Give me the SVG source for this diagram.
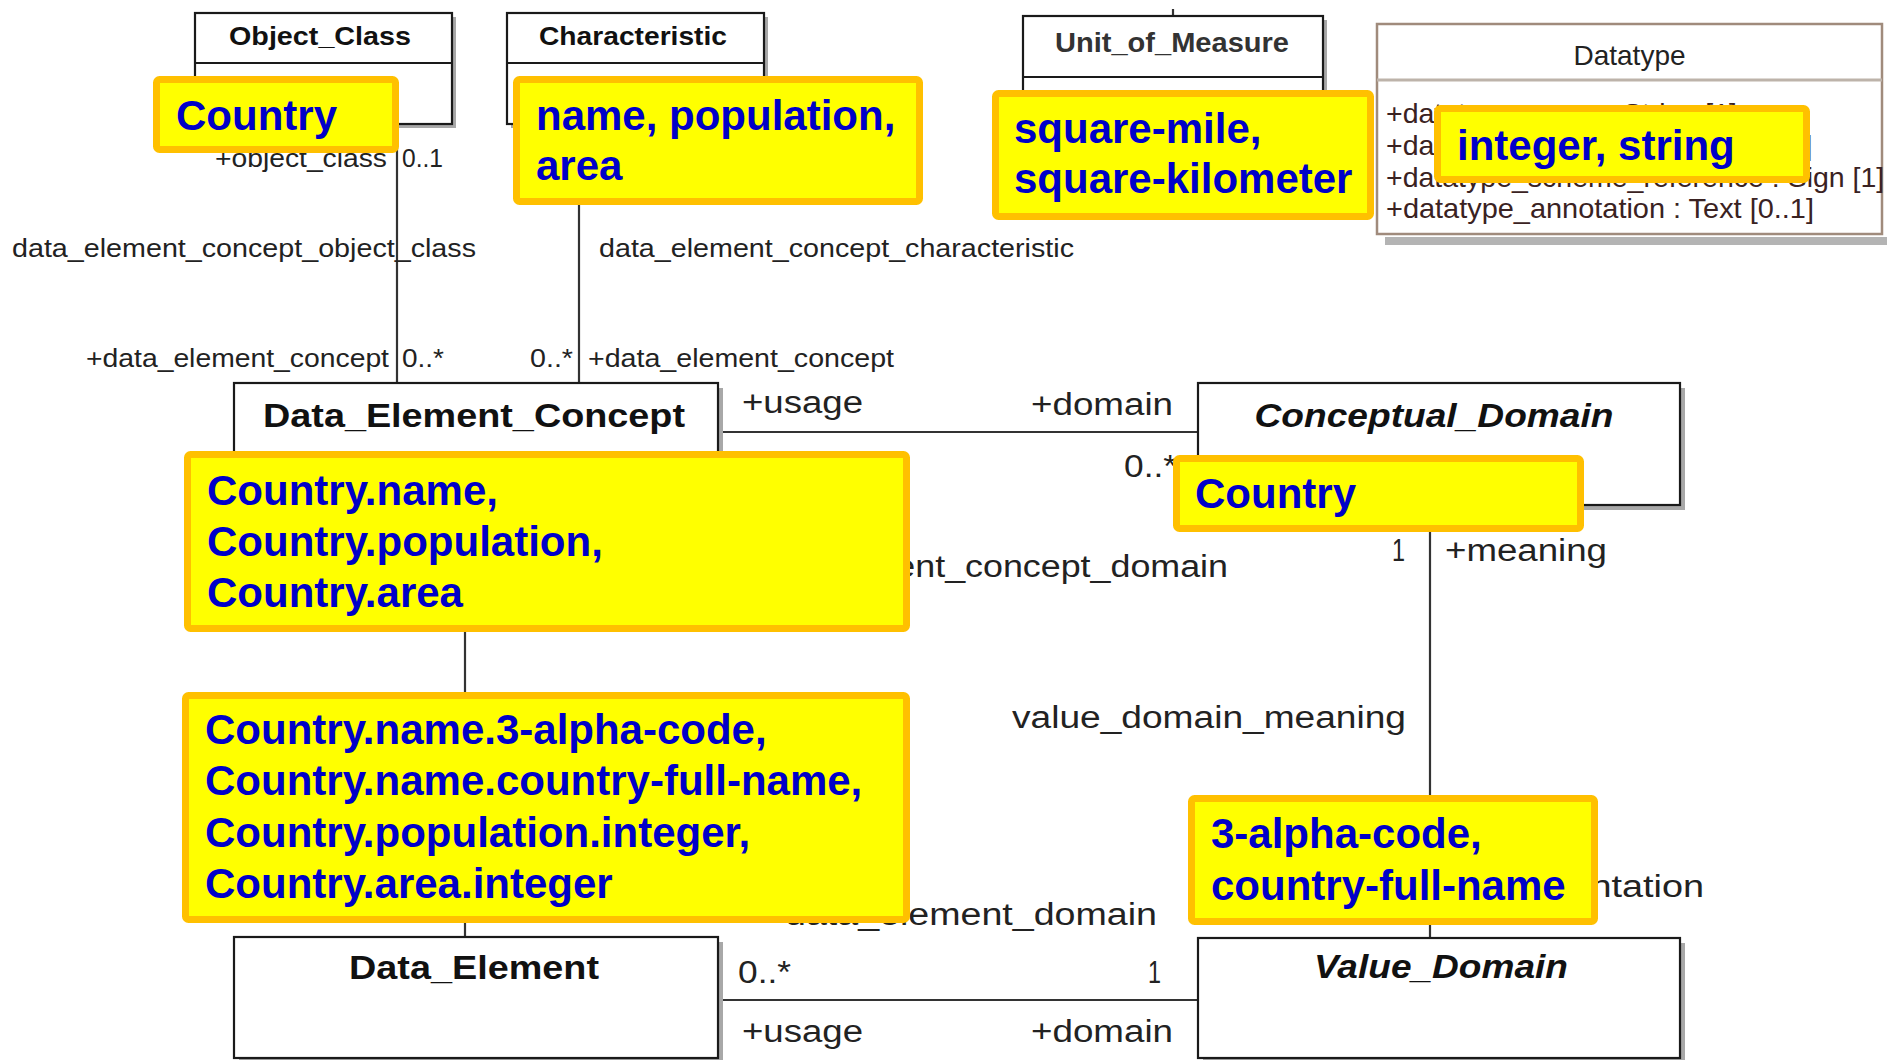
<svg xmlns="http://www.w3.org/2000/svg" width="1887" height="1060" viewBox="0 0 1887 1060">
<style>
.bx{fill:#fff;stroke:#1a1a1a;stroke-width:2.2}
.sh{fill:#a8a8a8}
.dv{stroke:#1a1a1a;stroke-width:2.2}
.ln{stroke:#333;stroke-width:2.2;fill:none}
.t1{font-family:"Liberation Sans",Arial,sans-serif;font-size:25px;fill:#222}
.t2{font-family:"Liberation Sans",Arial,sans-serif;font-size:31px;fill:#222}
.tt{font-family:"Liberation Sans",Arial,sans-serif;font-weight:bold;fill:#111;text-anchor:middle}
.dt{font-family:"Liberation Sans",Arial,sans-serif;font-size:28.5px;fill:#3a2222}
.yb{fill:#ffff00;stroke:#ffc000;stroke-width:7}
.yt{font-family:"Liberation Sans",Arial,sans-serif;font-weight:bold;font-size:42px;fill:#0000c8}
</style>

<g id="connectors">
<line class="ln" x1="397" y1="124" x2="397" y2="383"/>
<line class="ln" x1="579" y1="124" x2="579" y2="383"/>
<line class="ln" x1="1173" y1="9" x2="1173" y2="16"/>
<line class="ln" x1="718" y1="432" x2="1198" y2="432"/>
<line class="ln" x1="465" y1="505" x2="465" y2="937"/>
<line class="ln" x1="1430" y1="505" x2="1430" y2="938"/>
<line class="ln" x1="718" y1="1000" x2="1198" y2="1000"/>
<text class="t1" x="387" y="167" text-anchor="end" textLength="172" lengthAdjust="spacingAndGlyphs">+object_class</text>
<text class="t1" x="402" y="167" textLength="41" lengthAdjust="spacingAndGlyphs">0..1</text>
<text class="t1" x="12" y="257" textLength="464" lengthAdjust="spacingAndGlyphs">data_element_concept_object_class</text>
<text class="t1" x="599" y="257" textLength="475" lengthAdjust="spacingAndGlyphs">data_element_concept_characteristic</text>
<text class="t1" x="86" y="367" textLength="303" lengthAdjust="spacingAndGlyphs">+data_element_concept</text>
<text class="t1" x="402" y="367" textLength="42" lengthAdjust="spacingAndGlyphs">0..*</text>
<text class="t1" x="530" y="367" textLength="43" lengthAdjust="spacingAndGlyphs">0..*</text>
<text class="t1" x="588" y="367" textLength="306" lengthAdjust="spacingAndGlyphs">+data_element_concept</text>
<text class="t2" x="742" y="413" textLength="121" lengthAdjust="spacingAndGlyphs">+usage</text>
<text class="t2" x="1031" y="415" textLength="142" lengthAdjust="spacingAndGlyphs">+domain</text>
<text class="t2" x="1124" y="477" textLength="53" lengthAdjust="spacingAndGlyphs">0..*</text>
<text class="t2" x="1228" y="577" text-anchor="end" textLength="500" lengthAdjust="spacingAndGlyphs">data_element_concept_domain</text>
<text class="t2" x="1392" y="561" textLength="13" lengthAdjust="spacingAndGlyphs">1</text>
<text class="t2" x="1445" y="561" textLength="162" lengthAdjust="spacingAndGlyphs">+meaning</text>
<text class="t2" x="1012" y="728" textLength="394" lengthAdjust="spacingAndGlyphs">value_domain_meaning</text>
<text class="t2" x="1704" y="897" text-anchor="end" textLength="264" lengthAdjust="spacingAndGlyphs">+representation</text>
<text class="t2" x="1157" y="925" text-anchor="end" textLength="372" lengthAdjust="spacingAndGlyphs">data_element_domain</text>
<text class="t2" x="738" y="983" textLength="53" lengthAdjust="spacingAndGlyphs">0..*</text>
<text class="t2" x="1148" y="983" textLength="13" lengthAdjust="spacingAndGlyphs">1</text>
<text class="t2" x="742" y="1042" textLength="121" lengthAdjust="spacingAndGlyphs">+usage</text>
<text class="t2" x="1031" y="1042" textLength="142" lengthAdjust="spacingAndGlyphs">+domain</text>
</g>

<g id="object_class">
<rect class="sh" x="199" y="17" width="257" height="111"/>
<rect class="bx" x="195" y="13" width="257" height="111"/>
<line class="dv" x1="195" y1="63" x2="452" y2="63"/>
<text class="tt" x="320" y="45" font-size="26" textLength="182" lengthAdjust="spacingAndGlyphs">Object_Class</text>
</g>

<g id="characteristic">
<rect class="sh" x="511" y="17" width="257" height="111"/>
<rect class="bx" x="507" y="13" width="257" height="111"/>
<line class="dv" x1="507" y1="63" x2="764" y2="63"/>
<text class="tt" x="633" y="45" font-size="26" textLength="188" lengthAdjust="spacingAndGlyphs">Characteristic</text>
</g>

<g id="unit_of_measure">
<rect class="sh" x="1027" y="20" width="300" height="100"/>
<rect class="bx" x="1023" y="16" width="300" height="100"/>
<line class="dv" x1="1023" y1="77" x2="1323" y2="77"/>
<text class="tt" x="1172" y="52" font-size="28" fill="#333" textLength="234" lengthAdjust="spacingAndGlyphs" style="fill:#333">Unit_of_Measure</text>
</g>

<g id="datatype">
<rect x="1385" y="237" width="502" height="8" fill="#b4b4b4"/>
<rect x="1377" y="24" width="505" height="210" fill="#fff" stroke="#a08b7c" stroke-width="2.5"/>
<line x1="1377" y1="80" x2="1882" y2="80" stroke="#bdb3aa" stroke-width="3"/>
<text x="1629.5" y="65" text-anchor="middle" style="font-family:'Liberation Sans',Arial,sans-serif;font-size:28px;fill:#222">Datatype</text>
<text class="dt" x="1386" y="123">+datatype_name : String [1]</text>
<text class="dt" x="1386" y="155">+datatype_description : Text [0..1]</text>
<text class="dt" x="1386" y="187">+datatype_scheme_reference : Sign [1]</text>
<text class="dt" x="1386" y="218" textLength="428" lengthAdjust="spacingAndGlyphs">+datatype_annotation : Text [0..1]</text>
</g>

<g id="data_element_concept">
<rect class="sh" x="239" y="388" width="484" height="122"/>
<rect class="bx" x="234" y="383" width="484" height="122"/>
<text class="tt" x="474" y="427" font-size="34" textLength="422" lengthAdjust="spacingAndGlyphs">Data_Element_Concept</text>
</g>

<g id="conceptual_domain">
<rect class="sh" x="1203" y="388" width="482" height="122"/>
<rect class="bx" x="1198" y="383" width="482" height="122"/>
<text class="tt" x="1434" y="427" font-size="34" font-style="italic" textLength="359" lengthAdjust="spacingAndGlyphs">Conceptual_Domain</text>
</g>

<g id="data_element">
<rect class="sh" x="239" y="942" width="484" height="121"/>
<rect class="bx" x="234" y="937" width="484" height="121"/>
<text class="tt" x="474" y="979" font-size="34" textLength="250" lengthAdjust="spacingAndGlyphs">Data_Element</text>
</g>

<g id="value_domain">
<rect class="sh" x="1203" y="943" width="482" height="120"/>
<rect class="bx" x="1198" y="938" width="482" height="120"/>
<text class="tt" x="1441" y="978" font-size="34" font-style="italic" textLength="254" lengthAdjust="spacingAndGlyphs">Value_Domain</text>
</g>

<g id="note_object_class">
<rect class="yb" x="156.5" y="79.5" width="239" height="70" rx="3"/>
<text class="yt" x="176" y="130">Country</text>
</g>

<g id="note_characteristic">
<rect class="yb" x="516.5" y="79.5" width="403" height="122" rx="3"/>
<text class="yt" x="536" y="130">name, population,</text>
<text class="yt" x="536" y="180">area</text>
</g>

<g id="note_unit">
<rect class="yb" x="995.5" y="93.5" width="375" height="123" rx="3"/>
<text class="yt" x="1014" y="143">square-mile,</text>
<text class="yt" x="1014" y="193">square-kilometer</text>
</g>

<g id="note_datatype">
<rect class="yb" x="1437.5" y="108.5" width="369" height="71" rx="3"/>
<text class="yt" x="1457" y="160">integer, string</text>
</g>

<g id="note_dec">
<rect class="yb" x="187.5" y="454.5" width="719" height="174" rx="3"/>
<text class="yt" x="207" y="505">Country.name,</text>
<text class="yt" x="207" y="556">Country.population,</text>
<text class="yt" x="207" y="607">Country.area</text>
</g>

<g id="note_cd">
<rect class="yb" x="1176.5" y="458.5" width="404" height="70" rx="3"/>
<text class="yt" x="1195" y="508">Country</text>
</g>

<g id="note_de">
<rect class="yb" x="185.5" y="695.5" width="721" height="224" rx="3"/>
<text class="yt" x="205" y="744">Country.name.3-alpha-code,</text>
<text class="yt" x="205" y="795">Country.name.country-full-name,</text>
<text class="yt" x="205" y="847">Country.population.integer,</text>
<text class="yt" x="205" y="898">Country.area.integer</text>
</g>

<g id="note_vd">
<rect class="yb" x="1191.5" y="798.5" width="403" height="123" rx="3"/>
<text class="yt" x="1211" y="848">3-alpha-code,</text>
<text class="yt" x="1211" y="900">country-full-name</text>
</g>
</svg>
